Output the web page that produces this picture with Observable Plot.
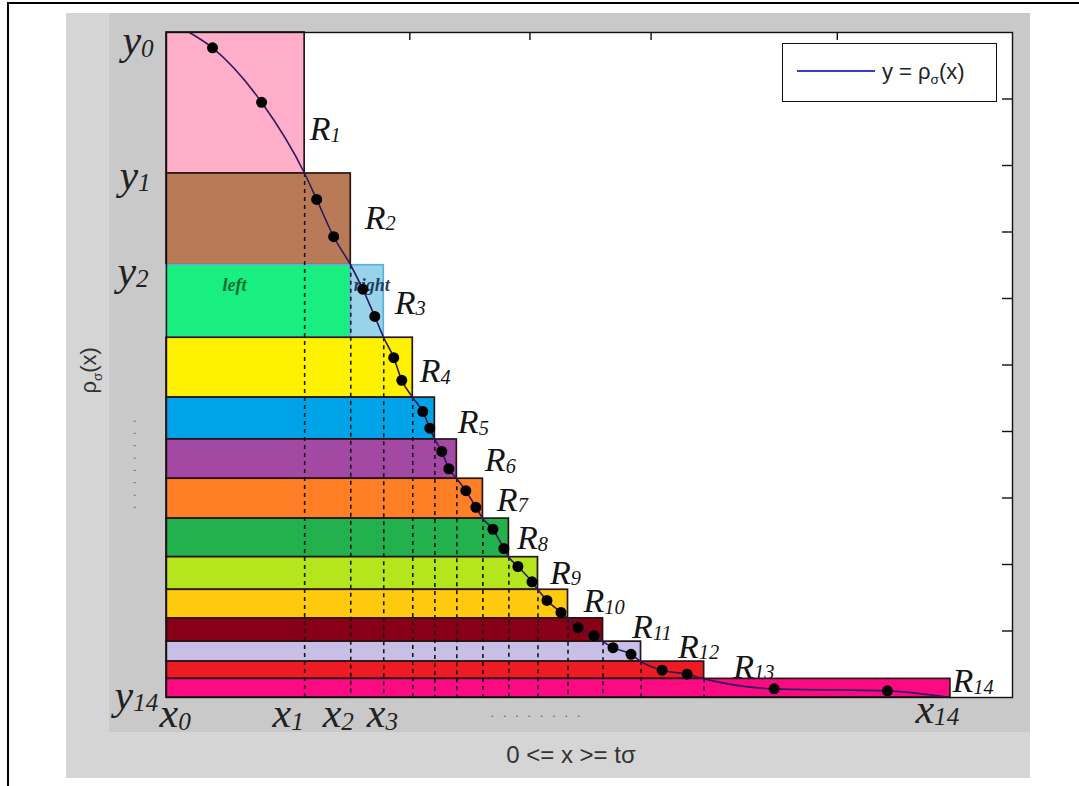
<!DOCTYPE html>
<html>
<head>
<meta charset="utf-8">
<script src="https://cdn.jsdelivr.net/npm/d3@7"></script>
<script src="https://cdn.jsdelivr.net/npm/@observablehq/plot@0.6"></script>
<style>
  body { margin: 0; background: #ffffff; }
  #wrap { position: relative; width: 1079px; height: 786px; overflow: hidden; }
  .abs { position: absolute; }
  #chart { position: absolute; left: 0; top: 0; }
  #legend sub { font-size: 0.62em; vertical-align: -0.35em; line-height: 0; }
</style>
</head>
<body>
<div id="wrap">
  <div class="abs" style="left:66px;top:13px;width:964px;height:765px;background:#d5d5d5"></div>
  <div class="abs" style="left:109px;top:13px;width:921px;height:719px;background:#c9c9c9"></div>
  <div class="abs" style="left:7px;top:2px;width:1072px;height:2px;background:#000"></div>
  <div class="abs" style="left:7px;top:2px;width:2px;height:784px;background:#000"></div>
  <div id="chart"></div>
  <div id="legend" class="abs" style="left:782px;top:43px;width:215px;height:59px;box-sizing:border-box;border:1.5px solid #111;background:#fff;">
    <div class="abs" style="left:14px;top:26px;width:78px;height:2px;background:#3a3ad8"></div>
    <div class="abs" style="left:99px;top:17px;font-family:'Liberation Sans',Arial,sans-serif;font-size:22px;line-height:22px;color:#222;white-space:nowrap">y = ρ<sub>σ</sub>(x)</div>
  </div>
</div>
<script>
// ---------- data ----------
const rectNames = ["R1","R2","R3","R4","R5","R6","R7","R8","R9","R10","R11","R12","R13","R14"];
// x_0 ... x_14 (right edges of the rectangles)
const xEdges = [0, 1.633, 2.178, 2.568, 2.911, 3.172, 3.432, 3.740, 4.047, 4.391, 4.746, 5.160, 5.609, 6.355, 9.266];
// y_0 ... y_14 (levels of the rectangles)
const yLevels = [1.000, 0.788, 0.650, 0.541, 0.451, 0.388, 0.329, 0.269, 0.211, 0.162, 0.119, 0.084, 0.054, 0.028, 0];
const rectColors = ["#ffaec9","#b97a57","#19ef80","#fff200","#00a2e8","#a349a4","#ff7f27","#22b14c","#b5e61d","#ffc90e","#880015","#c8bfe7","#ed1c24","#fb0a82"];
const r3RightColor = "#99d3ea";
const r3Stroke = "#5ab2dc";
const rectStroke = "#2a1515";
// sample points on y = rho_sigma(x), two per rectangle
const dotX = [0.544, 1.124, 1.775, 1.976, 2.320, 2.462, 2.686, 2.781, 3.030, 3.112, 3.254, 3.337, 3.538, 3.657, 3.858, 3.988, 4.154, 4.320, 4.497, 4.663, 4.864, 5.053, 5.278, 5.491, 5.858, 6.154, 7.183, 8.521];
const dotY = [0.977, 0.895, 0.749, 0.693, 0.614, 0.573, 0.511, 0.477, 0.430, 0.405, 0.370, 0.344, 0.311, 0.286, 0.253, 0.224, 0.197, 0.174, 0.146, 0.128, 0.105, 0.093, 0.075, 0.065, 0.041, 0.035, 0.013, 0.010];
const curveStart = [0.272, 1.0];
// labels
const rLabelX = [1.692, 2.343, 2.698, 2.994, 3.444, 3.763, 3.905, 4.142, 4.532, 4.930, 5.503, 6.047, 6.698, 9.290];
const rLabelY = [0.838, 0.705, 0.577, 0.474, 0.398, 0.340, 0.281, 0.223, 0.171, 0.128, 0.089, 0.060, 0.030, 0.008];
const yLabelText = ["y_{0}", "y_{1}", "y_{2}", "y_{14}"];
const yLabelX = [-0.521, -0.556, -0.580, -0.615];
const yLabelY = [0.967, 0.765, 0.621, -0.017];
const xLabelText = ["x_{0}", "x_{1}", "x_{2}", "x_{3}", "x_{14}"];
const xLabelX = [-0.083, 1.254, 1.846, 2.367, 8.852];
const xLabelY = [-0.045, -0.045, -0.045, -0.045, -0.038];
const sideText = ["left", "right"];
const sideX = [0.805, 2.426];
const sideY = [0.611, 0.611];
const sideColors = ["#0e6b32", "#1f3f5f"];
const yTitle = "ρ_{σ}(x)";
const xTitle = "0 <= x >= tσ";
const yTicks = [0.1, 0.2, 0.3, 0.4, 0.5, 0.6, 0.7, 0.8, 0.9];
const topTicks = [2.876, 4.296, 5.728, 7.929];

// ---------- tables built from the arrays ----------
const rects = [];
for (let i = 1; i <= 14; i++) {
  if (i === 3) {
    rects.push({x1: 0, x2: xEdges[2], y1: yLevels[3], y2: yLevels[2], fill: rectColors[2], stroke: r3Stroke});
    rects.push({x1: xEdges[2], x2: xEdges[3], y1: yLevels[3], y2: yLevels[2], fill: r3RightColor, stroke: r3Stroke});
  } else {
    rects.push({x1: 0, x2: xEdges[i], y1: yLevels[i], y2: yLevels[i - 1], fill: rectColors[i - 1], stroke: rectStroke});
  }
}
const curve = [{x: curveStart[0], y: curveStart[1]}];
for (let i = 0; i < 14; i++) {
  curve.push({x: dotX[2 * i], y: dotY[2 * i]});
  curve.push({x: dotX[2 * i + 1], y: dotY[2 * i + 1]});
  curve.push({x: xEdges[i + 1], y: yLevels[i + 1]});
}
const dots = dotX.map((x, i) => ({x, y: dotY[i]}));
const idx = n => d3.range(n);
const serif = "'Liberation Serif','Times New Roman',serif";
const sans = "'Liberation Sans',Arial,sans-serif";

const chart = Plot.plot({
  width: 1079, height: 786,
  marginLeft: 166, marginRight: 67, marginTop: 32, marginBottom: 89,
  x: {domain: [0, 10], axis: null},
  y: {domain: [0, 1], axis: null},
  color: {type: "identity"},
  style: {background: "transparent", overflow: "visible"},
  marks: [
    Plot.frame({fill: "white", stroke: "none"}),
    Plot.rect(rects, {x1: "x1", x2: "x2", y1: "y1", y2: "y2", fill: "fill", stroke: "stroke", strokeWidth: 1.7}),
    Plot.ruleX(idx(13).map(i => i + 1), {x: i => xEdges[i], y1: i => yLevels[i], y2: 0, stroke: "#151515", strokeWidth: 1.6, strokeDasharray: "4,4"}),
    Plot.text(idx(2), {x: i => sideX[i], y: i => sideY[i], text: i => sideText[i], fill: i => sideColors[i], fontFamily: serif, fontStyle: "italic", fontWeight: "bold", fontSize: 18, lineAnchor: "bottom", textAnchor: "middle"}),
    Plot.line(curve, {x: "x", y: "y", stroke: "#2d1b5e", strokeWidth: 1.6, curve: "monotone-x"}),
    Plot.dot(dots, {x: "x", y: "y", r: 5.5, fill: "#000", stroke: "none"}),
    Plot.text(idx(14), {x: i => rLabelX[i], y: i => rLabelY[i], text: i => "R_{" + rectNames[i].slice(1) + "}", fontFamily: serif, fontStyle: "italic", fontSize: 34, fill: "#151515", textAnchor: "start", lineAnchor: "bottom"}),
    Plot.text(idx(4), {x: i => yLabelX[i], y: i => yLabelY[i], text: i => yLabelText[i], fontFamily: serif, fontStyle: "italic", fontSize: 42, fill: "#222", textAnchor: "start", lineAnchor: "bottom"}),
    Plot.text(idx(5), {x: i => xLabelX[i], y: i => xLabelY[i], text: i => xLabelText[i], fontFamily: serif, fontStyle: "italic", fontSize: 42, fill: "#222", textAnchor: "start", lineAnchor: "bottom"}),
    Plot.text([yTitle], {x: -0.911, y: 0.492, text: d => d, rotate: -90, fontFamily: sans, fontSize: 22, fill: "#333", textAnchor: "middle", lineAnchor: "middle"}),
    Plot.text([xTitle], {x: 4.781, y: -0.098, text: d => d, fontFamily: sans, fontSize: 24, fill: "#333", textAnchor: "middle", lineAnchor: "bottom"}),
    Plot.text(["........"], {x: 4.414, y: -0.030, text: d => d, fontFamily: sans, fontSize: 12, fill: "#555", textAnchor: "middle", lineAnchor: "bottom"}),
    Plot.text(["........"], {x: -0.343, y: 0.344, text: d => d, rotate: 90, fontFamily: sans, fontSize: 12, fill: "#555", textAnchor: "middle", lineAnchor: "middle"}),
    Plot.ruleY(yTicks, {x1: 9.882, x2: 10, stroke: "#111", strokeWidth: 1.4}),
    Plot.ruleX(topTicks, {y1: 0.988, y2: 1, stroke: "#111", strokeWidth: 1.4}),
    Plot.frame({stroke: "#111", strokeWidth: 1.4})
  ]
});
document.getElementById("chart").appendChild(chart);

// subscripts written as _{...} become smaller, lowered tspans
const NS = "http://www.w3.org/2000/svg";
chart.querySelectorAll("text").forEach(t => {
  const s = t.textContent;
  if (/^\.+$/.test(s)) { t.setAttribute("letter-spacing", "9"); return; }
  if (!s.includes("_{")) return;
  const fs = parseFloat(getComputedStyle(t).fontSize);
  const parts = s.split(/(_\{[^}]*\})/).filter(p => p.length);
  t.textContent = "";
  let shifted = 0;
  for (const p of parts) {
    const ts = document.createElementNS(NS, "tspan");
    if (p.startsWith("_{")) {
      ts.textContent = p.slice(2, -1);
      ts.setAttribute("font-size", (fs * 0.6).toFixed(1));
      const sh = fs < 30 ? fs * 0.25 : fs * 0.05;
      ts.setAttribute("dy", (sh - shifted).toFixed(1));
      shifted = sh;
    } else {
      ts.textContent = p;
      if (shifted) { ts.setAttribute("dy", (-shifted).toFixed(1)); shifted = 0; }
    }
    t.appendChild(ts);
  }
});
</script>
</body>
</html>
